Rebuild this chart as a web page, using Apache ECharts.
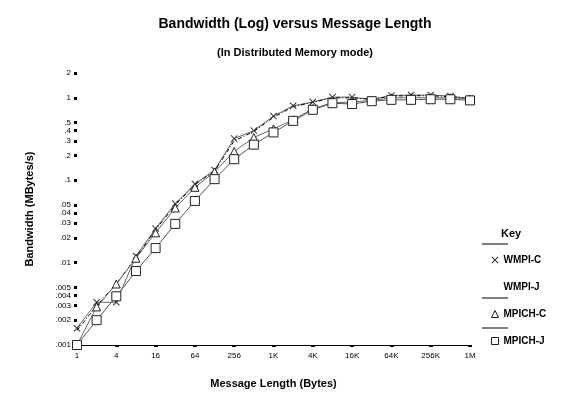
<!DOCTYPE html>
<html>
<head>
<meta charset="utf-8">
<script src="https://cdn.jsdelivr.net/npm/echarts@6/dist/echarts.min.js"></script>
<style>
  html, body { margin: 0; padding: 0; background: #fff; }
  #chart { width: 574px; height: 397px; }
</style>
</head>
<body>
<div id="chart"></div>
<script>
// message sizes (bytes), one point per power of two
const msgSizes = [1, 2, 4, 8, 16, 32, 64, 128, 256, 512, 1024, 2048, 4096, 8192,
  16384, 32768, 65536, 131072, 262144, 524288, 1048576];

// bandwidth in MBytes/s
const wmpiC = [0.0016, 0.0033, 0.0033, 0.012, 0.026, 0.052, 0.09, 0.133, 0.32, 0.40, 0.60,
  0.80, 0.89, 1.02, 1.02, 0.95, 1.07, 1.08, 1.08, 1.05, 0.98];
const wmpiJ = [0.0015, 0.0030, 0.0055, 0.0115, 0.025, 0.05, 0.088, 0.13, 0.30, 0.39, 0.58,
  0.78, 0.88, 1.0, 1.0, 0.96, 1.05, 1.06, 1.06, 1.03, 0.97];
const mpichC = [0.001, 0.0029, 0.0055, 0.0113, 0.023, 0.046, 0.082, 0.126, 0.223, 0.33, 0.42,
  0.54, 0.74, 0.87, 0.89, 0.93, 1.0, 1.0, 1.0, 1.0, 0.97];
const mpichJ = [0.001, 0.002, 0.0039, 0.0079, 0.015, 0.0295, 0.056, 0.103, 0.18, 0.27, 0.38,
  0.525, 0.715, 0.86, 0.84, 0.91, 0.945, 0.945, 0.96, 0.96, 0.93];

// tick labels
const xTickValues = [1, 4, 16, 64, 256, 1024, 4096, 16384, 65536, 262144, 1048576];
const xTickLabels = ['1', '4', '16', '64', '256', '1K', '4K', '16K', '64K', '256K', '1M'];
const yTickValues = [0.001, 0.002, 0.003, 0.004, 0.005, 0.01, 0.02, 0.03, 0.04, 0.05,
  0.1, 0.2, 0.3, 0.4, 0.5, 1, 2];

const crossPath = 'path://M0,1L1,0L5,4L9,0L10,1L6,5L10,9L9,10L5,6L1,10L0,9L4,5Z';
const font = 'Liberation Sans';

const pairs = vals => vals.map((v, i) => [msgSizes[i], v]);

var myChart = echarts.init(document.getElementById('chart'), null, {renderer: 'canvas'});

myChart.setOption({
    animation: false,
    textStyle: {fontFamily: font},
    title: [
        {
            text: 'Bandwidth (Log) versus Message Length',
            left: 290, top: 12, textAlign: 'center',
            textStyle: {fontSize: 14, fontWeight: 'bold', color: '#000', fontFamily: font}
        },
        {
            text: '(In Distributed Memory mode)',
            left: 290, top: 42, textAlign: 'center',
            textStyle: {fontSize: 11, fontWeight: 'bold', color: '#000', fontFamily: font}
        },
        {
            text: 'Key',
            left: 496, top: 223,
            textStyle: {fontSize: 11, fontWeight: 'bold', color: '#000', fontFamily: font}
        }
    ],
    grid: {left: 77, right: 104, top: 73, bottom: 52},
    xAxis: {
        type: 'log',
        logBase: 4,
        min: 1,
        max: 1048576,
        name: 'Message Length (Bytes)',
        nameLocation: 'middle',
        nameGap: 33,
        nameTextStyle: {fontSize: 11, fontWeight: 'bold', color: '#000'},
        axisLine: {lineStyle: {color: '#000', width: 1}},
        axisTick: {
            show: true, length: 2, inside: false,
            customValues: xTickValues,
            lineStyle: {color: '#000', width: 4}
        },
        axisLabel: {
            fontSize: 8, color: '#000', margin: 7,
            customValues: xTickValues,
            formatter: v => {
                const i = xTickValues.findIndex(t => Math.abs(t - v) / t < 1e-6);
                return i >= 0 ? xTickLabels[i] : '';
            }
        },
        splitLine: {show: false}
    },
    yAxis: {
        type: 'log',
        logBase: 10,
        min: 0.001,
        max: 2,
        name: 'Bandwidth (MBytes/s)',
        nameLocation: 'middle',
        nameRotate: 90,
        nameGap: 42,
        nameTextStyle: {fontSize: 11, fontWeight: 'bold', color: '#000'},
        axisLine: {show: false},
        axisTick: {
            show: true, length: 3,
            customValues: yTickValues,
            lineStyle: {color: '#000', width: 3}
        },
        axisLabel: {
            fontSize: 8, color: '#000', margin: 6,
            customValues: yTickValues,
            formatter: v => {
                const n = Number(v.toPrecision(6));
                return n < 1 ? String(n).replace(/^0/, '') : String(n);
            }
        },
        splitLine: {show: false}
    },
    legend: {
        orient: 'vertical',
        left: 486,
        top: 250,
        itemGap: 17,
        itemWidth: 7,
        itemHeight: 7,
        itemStyle: {borderWidth: 1},
        textStyle: {fontSize: 10, fontWeight: 'bold', color: '#000', fontFamily: font},
        data: [
            {name: 'WMPI-C', icon: crossPath},
            {name: 'WMPI-J', icon: 'none'},
            {name: 'MPICH-C', icon: 'triangle'},
            {name: 'MPICH-J', icon: 'rect'}
        ]
    },
    graphic: [
        {type: 'line', shape: {x1: 482, y1: 244, x2: 508, y2: 244}, style: {stroke: '#000', lineWidth: 1}},
        {type: 'line', shape: {x1: 482, y1: 298, x2: 508, y2: 298}, style: {stroke: '#000', lineWidth: 1}},
        {type: 'line', shape: {x1: 482, y1: 328, x2: 508, y2: 328}, style: {stroke: '#000', lineWidth: 1}}
    ],
    series: [
        {
            name: 'WMPI-C', type: 'line', data: pairs(wmpiC),
            symbol: crossPath, symbolSize: 7,
            itemStyle: {color: '#333'},
            lineStyle: {color: '#666', width: 1}
        },
        {
            name: 'WMPI-J', type: 'line', data: pairs(wmpiJ),
            symbol: 'none',
            itemStyle: {color: '#000'},
            lineStyle: {color: '#000', width: 1, type: [4, 2, 1, 2]}
        },
        {
            name: 'MPICH-C', type: 'line', data: pairs(mpichC),
            symbol: 'triangle', symbolSize: 8,
            itemStyle: {color: '#fff', borderColor: '#222', borderWidth: 1},
            lineStyle: {color: '#666', width: 1}
        },
        {
            name: 'MPICH-J', type: 'line', data: pairs(mpichJ),
            symbol: 'rect', symbolSize: 9,
            itemStyle: {color: '#fff', borderColor: '#222', borderWidth: 1},
            lineStyle: {color: '#555', width: 1}
        }
    ]
});
</script>
</body>
</html>
